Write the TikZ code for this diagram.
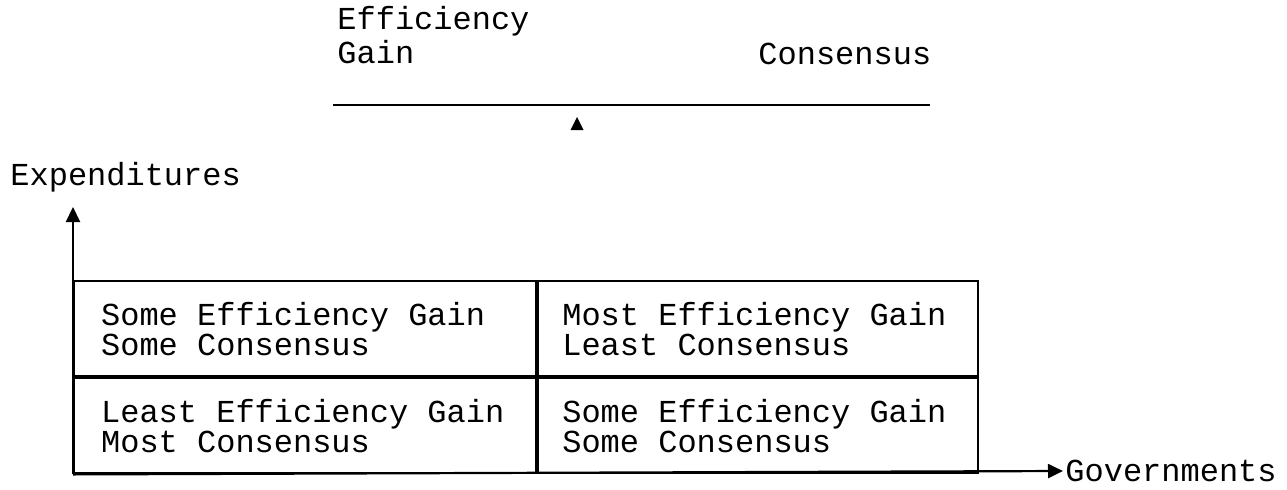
\documentclass[tikz,border=0pt]{standalone}
\usepackage{fontspec}
\setmainfont{Liberation Mono}
\usetikzlibrary{arrows.meta}

% fixed-pitch text: a space as wide as a letter
\newcommand{\typewr}{\fontsize{16pt}{15pt}\selectfont
  \spaceskip=0.6em\relax \xspaceskip=0.6em\relax}

\tikzset{
  rule/.style={line width=1.1pt},
  axis/.style={rule,-{Triangle[length=7.5pt,width=7pt]}},
  cell/.style={draw,line width=1.1pt,anchor=north west,align=flush left,
    inner ysep=0pt,minimum height=47.5pt},
  wide/.style={cell,text width=204pt,inner xsep=13.5pt},
  narrow/.style={cell,text width=196pt,inner xsep=12pt},
}

\begin{document}
\begin{tikzpicture}[x=0.5pt,y=-0.5pt,font=\typewr]
  \useasboundingbox (0,0) rectangle (1287,489);

  % the balance on top
  \coordinate (levL) at (333,105);
  \coordinate (levR) at (930,105);
  \draw[rule] (levL) -- (levR);
  \fill (577,117) -- ++(-6.5,13) -- ++(13,0) -- cycle;
  \node[anchor=base west,inner sep=0pt,align=left,font={\typewr\fontsize{16pt}{17pt}\selectfont}] (eff) at (337,63) {Efficiency\\Gain};
  \node[anchor=base west,inner sep=0pt] (cons) at (758,64) {Consensus};

  % the four cells
  \node[wide] (ul) at (73,280) {Some Efficiency Gain\\Some Consensus};
  \node[narrow] (ur) at (ul.north east) {Most Efficiency Gain\\Least Consensus};
  \node[wide] (ll) at (ul.south west) {Least Efficiency Gain\\Most Consensus};
  \node[narrow] (lr) at (ul.south east) {Some Efficiency Gain\\Some Consensus};

  % axes
  \coordinate (origin) at (ll.south west);
  \coordinate (ytip) at (73,207);
  \coordinate (xtip) at (1063,471);
  \draw[axis] (origin) -- (ytip);
  \draw[axis] (origin) -- (xtip);
  \node[anchor=base west,inner sep=0pt] (expend) at (10,185) {Expenditures};
  \node[anchor=west,inner sep=1pt] (gov) at (xtip) {Governments};
\end{tikzpicture}
\end{document}
